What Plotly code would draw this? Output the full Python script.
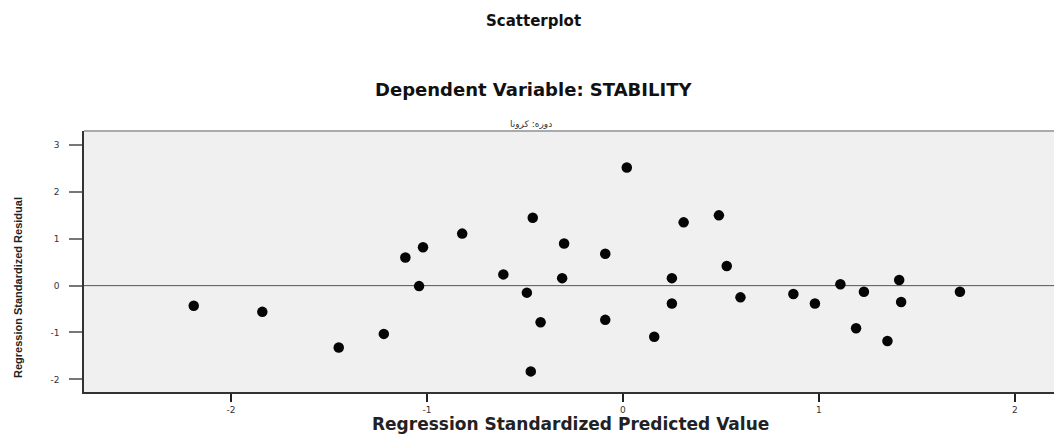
import plotly.graph_objects as go

# Data (standardized predicted value, standardized residual)
pred = [-2.19, -1.84, -1.45, -1.22, -1.11, -1.02, -1.04, -0.82, -0.61, -0.46,
        -0.49, -0.42, -0.47, -0.30, -0.31, -0.09, -0.09, 0.02, 0.16, 0.25,
        0.25, 0.31, 0.49, 0.53, 0.60, 0.87, 0.98, 1.11, 1.23, 1.19,
        1.35, 1.41, 1.42, 1.72]
resid = [-0.43, -0.56, -1.32, -1.03, 0.60, 0.82, -0.01, 1.11, 0.24, 1.45,
         -0.15, -0.78, -1.83, 0.90, 0.16, 0.68, -0.73, 2.52, -1.09, 0.16,
         -0.38, 1.35, 1.50, 0.42, -0.25, -0.18, -0.38, 0.03, -0.13, -0.91,
         -1.18, 0.12, -0.35, -0.13]

x_ticks = [-2, -1, 0, 1, 2]
y_ticks = [-2, -1, 0, 1, 2, 3]

W, H = 1055, 436
L, R, T, B = 84, 1, 131, 44
PH = H - T - B
PW = W - L - R

def py(pix):
    return (H - B - pix) / PH

def px(pix):
    return (pix - L) / PW

fig = go.Figure()
fig.add_trace(go.Scatter(
    x=pred, y=resid, mode="markers",
    marker=dict(size=10.5, color="#050505", line=dict(width=0)),
    showlegend=False, hoverinfo="x+y"))

wide = "DejaVu Sans, Verdana, sans-serif"

def ann(text, x, y, size, color="#111", fam=wide, angle=0):
    return dict(text=text, xref="paper", yref="paper", x=px(x), y=py(y),
                xanchor="center", yanchor="middle", textangle=angle,
                showarrow=False, font=dict(size=size, color=color, family=fam))

fig.update_layout(
    width=W, height=H,
    margin=dict(l=L, r=R, t=T, b=B),
    paper_bgcolor="white", plot_bgcolor="#f0f0f0",
    font=dict(family=wide, color="#222"),
    xaxis=dict(range=[-2.75, 2.20], tickvals=x_ticks, ticktext=[str(v) for v in x_ticks],
               showgrid=False, zeroline=False, showline=True, linecolor="#333", linewidth=1.5,
               ticks="outside", ticklen=8, tickwidth=2, tickcolor="#222",
               tickfont=dict(size=9, color="#333", family=wide)),
    yaxis=dict(range=[-2.27, 3.30], tickvals=y_ticks, ticktext=[str(v) for v in y_ticks],
               showgrid=False, zeroline=False, showline=True, linecolor="#333", linewidth=1.5,
               ticks="outside", ticklen=13, tickwidth=1.5, tickcolor="#777",
               ticklabelstandoff=8,
               tickfont=dict(size=9, color="#333", family=wide)),
    shapes=[
        dict(type="line", xref="paper", yref="y", x0=0, x1=1, y0=0, y1=0,
             line=dict(color="#555", width=1), layer="below"),
        dict(type="line", xref="paper", yref="paper", x0=0, x1=1, y0=1, y1=1,
             line=dict(color="#aaa", width=2)),
    ],
    annotations=[
        ann("<b>Scatterplot</b>", 533, 21, 15),
        ann("<b>Dependent Variable: STABILITY</b>", 533, 89, 18),
        ann("دوره: کرونا", 531, 124, 9, "#333"),
        ann("<b>Regression Standardized Predicted Value</b>", 570, 424, 17, "#222"),
        ann("<b>Regression Standardized Residual</b>", 18, 288, 11, "#222",
            "Liberation Sans Narrow, Liberation Sans, Arial, sans-serif", -90),
    ],
)

fig.write_html("out.html", config={"displayModeBar": False},
               post_script="document.body.style.margin='0';")
